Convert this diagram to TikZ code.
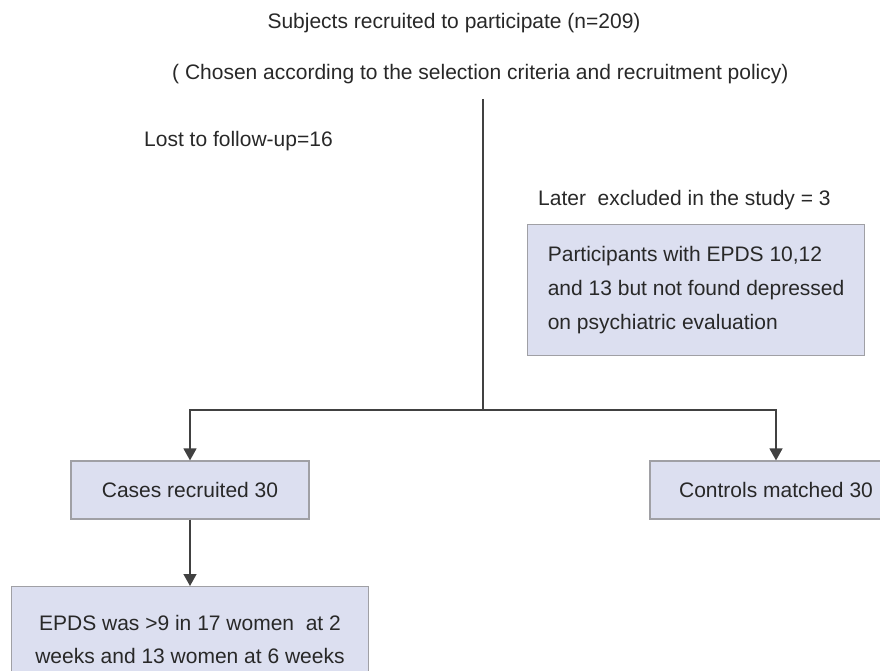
\documentclass[tikz,border=0pt]{standalone}
\usepackage{fontspec}
\setmainfont{Liberation Sans}
\usetikzlibrary{arrows.meta}
\definecolor{boxfill}{RGB}{220,223,240}
\definecolor{boxline}{RGB}{160,160,165}
\definecolor{linegray}{RGB}{65,65,65}
\definecolor{textgray}{RGB}{40,40,40}
\begin{document}
\begin{tikzpicture}[x=1pt,y=-1pt]
	\tikzstyle{txt} = [text=textgray,font=\fontsize{21}{33}\selectfont,inner sep=0pt]
	\tikzstyle{box} = [txt,draw=boxline,line width=1.2pt,fill=boxfill]
	\tikzstyle{flow} = [draw=linegray,line width=1.4pt]
	\tikzstyle{tip} = [-{Triangle[width=13pt,length=12pt]}]
	
		\useasboundingbox (0,0) rectangle (880,671);
		\clip (0,0) rectangle (880,671);
		
		\node[txt] (subj) at (454,23){Subjects recruited to participate (n=209)};
		\node[txt,anchor=west] (chosen) at (172,74){( Chosen according to the selection criteria and recruitment policy)};
		\node[txt,anchor=west] (lost) at (144,141){Lost to follow-up=16};
		\node[txt,anchor=west] (later) at (538,200){Later\ \ excluded in the study = 3};
		
		\node[box,anchor=north west,align=left,font=\fontsize{21}{34}\selectfont,minimum width=337pt,minimum height=131pt] (excl) at (527,224){Participants with EPDS 10,12\\and 13 but not found depressed\\on psychiatric evaluation};
		
		\node[box,minimum width=238pt,minimum height=58pt] (cases) at (190,490){Cases recruited 30};
		\node[box,minimum width=252pt,minimum height=58pt] (controls) at (776,490){Controls matched 30};
		\node[box,anchor=north,align=center,minimum width=357pt,minimum height=105pt] (epds) at (190,586){EPDS was >9 in 17 women\ \ at 2\\weeks and 13 women at 6 weeks};
		
		\coordinate (top) at (483,99);
		\coordinate (split) at (483,410);
		
		\draw[flow] (top) -- (split);
		\draw[flow,tip] (split) -| (cases.north);
		\draw[flow,tip] (split) -| (controls.north);
		\draw[flow,tip] (cases.south) -- (epds.north);
		
\end{tikzpicture}
\end{document}
